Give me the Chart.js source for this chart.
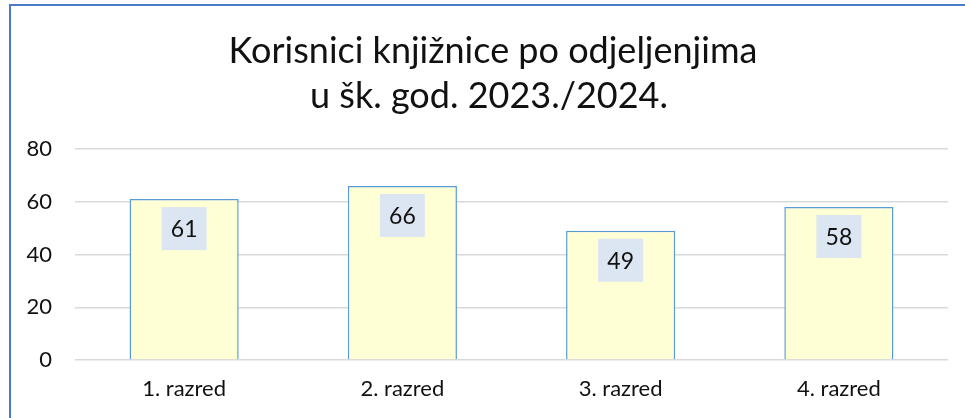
<!DOCTYPE html>
<html lang="hr">

<head>
    <meta charset="UTF-8">
    <title>Korisnici knjižnice po odjeljenjima</title>
    <script src="https://cdn.jsdelivr.net/npm/chart.js@4"></script>
    <style>
        html, body {
            margin: 0;
            padding: 0;
            background: #fff;
            overflow: hidden;
        }

        .frame {
            position: absolute;
            left: 9px;
            top: 4px;
            width: 1100px;
            height: 600px;
            border-left: 2px solid #4a7ac9;
            border-top: 2px solid #4a7ac9;
            pointer-events: none;
        }

        #chartBox {
            position: absolute;
            left: 0;
            top: 0;
            width: 965px;
            height: 418px;
        }
    </style>
</head>

<body>
    <div id="chartBox"><canvas id="libraryChart"></canvas></div>
    <div class="frame"></div>

    <script>
        // data
        const titleLines = ['Korisnici knjižnice po odjeljenjima', 'u šk. god. 2023./2024.'];
        const categories = ['1. razred', '2. razred', '3. razred', '4. razred'];
        const users = [61, 66, 49, 58];
        const yMax = 80;
        const yStep = 20;

        const FONT = 'Lato, "Open Sans", sans-serif';

        // title drawn by hand so the plot area can sit exactly where it should
        const titlePlugin = {
            id: 'twoLineTitle',
            afterDraw(chart) {
                const c = chart.ctx;
                c.save();
                c.fillStyle = '#111';
                c.font = '36px ' + FONT;
                c.textAlign = 'center';
                c.textBaseline = 'alphabetic';
                c.fillText(titleLines[0], 493, 63);
                c.fillText(titleLines[1], 489, 108);
                c.restore();
            }
        };

        // value boxes inside the top of each bar
        const valueBoxes = {
            id: 'valueBoxes',
            afterDatasetsDraw(chart) {
                const c = chart.ctx;
                const meta = chart.getDatasetMeta(0);
                c.save();
                c.font = '23px ' + FONT;
                c.textAlign = 'center';
                c.textBaseline = 'middle';
                meta.data.forEach((bar, i) => {
                    const w = 45, h = 43;
                    const top = bar.y + 8;
                    c.fillStyle = '#dce6f2';
                    c.fillRect(bar.x - w / 2, top, w, h);
                    c.fillStyle = '#111';
                    c.fillText(String(chart.data.datasets[0].data[i]), bar.x, top + h / 2 + 1);
                });
                c.restore();
            }
        };

        const ctx = document.getElementById('libraryChart').getContext('2d');
        const libraryChart = new Chart(ctx, {
            type: 'bar',
            data: {
                labels: categories,
                datasets: [{
                    data: users,
                    backgroundColor: '#ffffd5',
                    borderColor: '#5b9bd5',
                    borderWidth: 1.5,
                    categoryPercentage: 1,
                    barPercentage: 0.5
                }]
            },
            options: {
                responsive: true,
                maintainAspectRatio: false,
                animation: false,
                events: [],
                layout: {
                    padding: { top: 149, right: 17, bottom: 0, left: 0 }
                },
                plugins: {
                    legend: { display: false },
                    title: { display: false },
                    tooltip: { enabled: false }
                },
                scales: {
                    x: {
                        grid: { display: false, drawTicks: false },
                        border: { display: false },
                        ticks: {
                            color: '#111',
                            font: { family: FONT, size: 22 },
                            padding: 16
                        },
                        afterFit(scale) { scale.height = 58; }
                    },
                    y: {
                        min: 0,
                        max: yMax,
                        grid: { color: '#d9d9d9', lineWidth: 1.5, drawTicks: false },
                        border: { display: false },
                        ticks: {
                            stepSize: yStep,
                            color: '#111',
                            font: { family: FONT, size: 22 },
                            padding: 23
                        },
                        afterFit(scale) { scale.width = 75; }
                    }
                }
            },
            plugins: [titlePlugin, valueBoxes]
        });
    </script>
</body>

</html>
